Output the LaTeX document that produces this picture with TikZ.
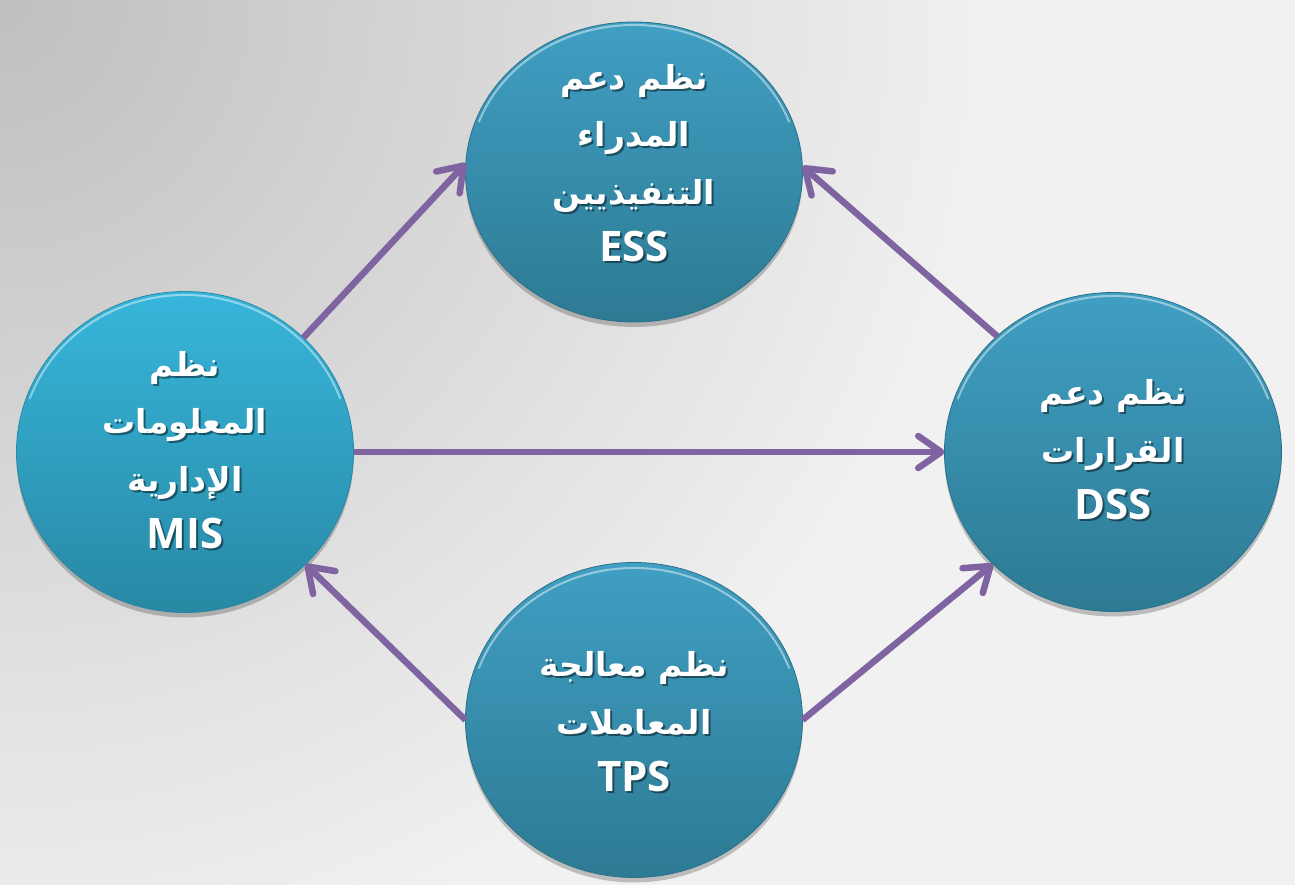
\documentclass[tikz,border=0pt]{standalone}
\usepackage{fontspec}
\setmainfont{Open Sans}
\newfontfamily\arabicfont[Script=Arabic]{DejaVu Sans}
\TeXXeTstate=1
\usetikzlibrary{arrows.meta,shapes.geometric,shadows,fadings}
\newcommand{\artxt}[1]{{\arabicfont\bfseries\fontsize{33}{57.5}\selectfont\beginR #1\endR}}
\definecolor{bgbase}{HTML}{F1F1F1}
\definecolor{bgdark}{HTML}{BFBFBF}
\definecolor{arrcol}{HTML}{8064A2}
\definecolor{tealtop}{HTML}{409FC3}
\definecolor{tealbot}{HTML}{2D7A93}
\definecolor{cyantop}{HTML}{37B6DB}
\definecolor{cyanbot}{HTML}{2888A4}
\definecolor{rim}{HTML}{2A7089}
\tikzset{
  sysbox/.style={ellipse, inner sep=0pt, outer sep=0pt, minimum width=337pt,
    draw=rim, line width=0.8pt, top color=tealtop, bottom color=tealbot,
    drop shadow={shadow xshift=0pt, shadow yshift=-5pt, opacity=0.22, fill=black}},
  misbox/.style={sysbox, top color=cyantop, bottom color=cyanbot, draw=cyanbot},
  hl/.style={draw=white, line width=2pt, opacity=0.45, line cap=round},
  arr/.style={draw=arrcol, line width=6.5pt,
    -{Straight Barb[length=23pt, width=32pt, round]}},
  lbl/.style={align=center, text=white, inner sep=0pt,
    font=\fontsize{42}{57.5}\selectfont\bfseries},
  lblsh/.style={lbl, text=black, opacity=0.45}
}
\begin{document}
\begin{tikzpicture}[x=1pt, y=-1pt]
\useasboundingbox (0,0) rectangle (1295,885);
\fill[bgbase] (0,0) rectangle (1295,885);
\begin{scope}
  \clip (0,0) rectangle (1295,885);
  \shade[inner color=bgdark, outer color=bgbase] (0,0) circle[radius=1000];
\end{scope}

% circles
\node[sysbox, minimum height=300pt] (ess) at (634,172) {};
\node[misbox, minimum height=321pt] (mis) at (185,452) {};
\node[sysbox, minimum height=319pt] (dss) at (1113,452) {};
\node[sysbox, minimum height=315pt] (tps) at (634,720) {};

% top rim highlights
\draw[hl] ([shift={(200:165 and 147)}]ess.center) arc[start angle=200, end angle=340, x radius=165, y radius=147];
\draw[hl] ([shift={(200:165 and 157)}]mis.center) arc[start angle=200, end angle=340, x radius=165, y radius=157];
\draw[hl] ([shift={(200:165 and 156)}]dss.center) arc[start angle=200, end angle=340, x radius=165, y radius=156];
\draw[hl] ([shift={(200:165 and 152)}]tps.center) arc[start angle=200, end angle=340, x radius=165, y radius=152];

% connectors
\draw[arr] (mis.44) -- (ess.177);
\draw[arr] (dss.135) -- (ess.2);
\draw[arr] (mis.east) -- (dss.west);
\draw[arr] (tps.180) -- (mis.317);
\draw[arr] (tps.0) -- (dss.223);

% labels (shadow + text)
\node[lblsh] (ess-s) at (636,165) {\artxt{نظم دعم}\\\artxt{المدراء}\\\artxt{التنفيذيين}\\ESS};
\node[lbl] (ess-t) at (634,163) {\artxt{نظم دعم}\\\artxt{المدراء}\\\artxt{التنفيذيين}\\ESS};

\node[lblsh] (mis-s) at (187,452) {\artxt{نظم}\\\artxt{المعلومات}\\\artxt{الإدارية}\\MIS};
\node[lbl] (mis-t) at (185,450) {\artxt{نظم}\\\artxt{المعلومات}\\\artxt{الإدارية}\\MIS};

\node[lblsh] (dss-s) at (1115,452) {\artxt{نظم دعم}\\\artxt{القرارات}\\DSS};
\node[lbl] (dss-t) at (1113,450) {\artxt{نظم دعم}\\\artxt{القرارات}\\DSS};

\node[lblsh] (tps-s) at (636,724) {\artxt{نظم معالجة}\\\artxt{المعاملات}\\TPS};
\node[lbl] (tps-t) at (634,722) {\artxt{نظم معالجة}\\\artxt{المعاملات}\\TPS};
\end{tikzpicture}
\end{document}
